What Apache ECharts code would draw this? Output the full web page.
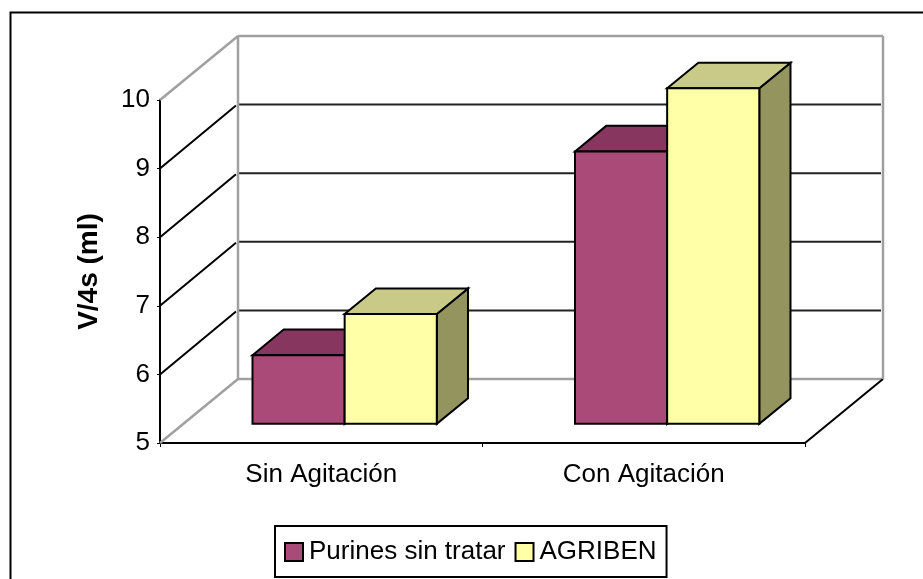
<!DOCTYPE html>
<html>
<head>
<meta charset="utf-8">
<style>
  html, body { margin: 0; padding: 0; background: #fff; }
  #chart { width: 923px; height: 579px; }
</style>
<script src="https://cdn.jsdelivr.net/npm/echarts@6/dist/echarts.min.js"></script>
</head>
<body>
<div id="chart"></div>
<script>
var categories = ['Sin Agitación', 'Con Agitación'];
var purines = [6.0, 8.97];
var agriben = [6.6, 9.89];
var yTicks = [5, 6, 7, 8, 9, 10];

var fontName = '"Liberation Sans", Arial, sans-serif';

// oblique offset of the back wall, Excel style 3D
var depthX = 78;
var depthY = -64;
var barInset = 0.3;   // bars sit 30% into the floor
var barDepth = 0.4;   // and take 40% of it

var myChart = echarts.init(document.getElementById('chart'));

function segment(x1, y1, x2, y2, color, width) {
  return {
    type: 'line',
    shape: { x1: x1, y1: y1, x2: x2, y2: y2 },
    style: { stroke: color, lineWidth: width || 2 }
  };
}

function renderWalls(params, api) {
  var rect = params.coordSys;
  var value = api.value(0);
  var y = api.coord([0, value])[1];
  var left = rect.x;
  var right = rect.x + rect.width;
  var backLeft = left + depthX;
  var backRight = right + depthX;
  var backY = y + depthY;
  var items = [];

  if (value === 5) {
    items.push(segment(left, y, backLeft, backY, '#a0a0a0', 2.5));
    items.push(segment(backLeft, backY, backRight, backY, '#a0a0a0', 2.5));
    items.push(segment(right, y, backRight, backY, '#000'));
  } else if (value === 10) {
    items.push(segment(left, y, backLeft, backY, '#a0a0a0', 2.5));
    items.push(segment(backLeft, backY, backRight, backY, '#a0a0a0', 2.5));
    items.push(segment(backLeft, backY, backLeft, backY + rect.height, '#a0a0a0', 2.5));
    items.push(segment(backRight, backY, backRight, backY + rect.height, '#a0a0a0', 2.5));
  } else {
    items.push(segment(left, y, backLeft - 2, backY + 1, '#000'));
    items.push(segment(backLeft + 1, backY, backRight - 2, backY, '#222'));
  }
  return { type: 'group', children: items };
}

function barRenderer(side, frontColor, topColor, sideColor) {
  return function (params, api) {
    var base = api.coord([api.value(0), 5]);
    var top = api.coord([api.value(0), api.value(1)]);
    var width = api.size([1, 0])[0] / 3.5;
    var x0 = base[0] + depthX * barInset + side * width;
    var x1 = x0 + width;
    var shift = depthY * barInset;
    var yBase = base[1] + shift;
    var yTop = top[1] + shift;
    var dx = depthX * barDepth;
    var dy = depthY * barDepth;

    function face(points, color) {
      return {
        type: 'polygon',
        shape: { points: points },
        style: { fill: color, stroke: '#000', lineWidth: 2, lineJoin: 'miter' }
      };
    }
    return {
      type: 'group',
      children: [
        face([[x1, yTop], [x1 + dx, yTop + dy], [x1 + dx, yBase + dy], [x1, yBase]], sideColor),
        face([[x0, yTop], [x0 + dx, yTop + dy], [x1 + dx, yTop + dy], [x1, yTop]], topColor),
        face([[x0, yTop], [x1, yTop], [x1, yBase], [x0, yBase]], frontColor)
      ]
    };
  };
}

function toPairs(values) {
  return values.map(function (v, i) { return [i, v]; });
}

var option = {
  animation: false,
  backgroundColor: '#fff',
  textStyle: { fontFamily: fontName, color: '#000' },
  graphic: [
    {
      type: 'rect',
      z: 0,
      shape: { x: 10.5, y: 12.5, width: 1000, height: 700 },
      style: { fill: 'none', stroke: '#000', lineWidth: 2 }
    }
  ],
  legend: {
    data: ['Purines sin tratar', 'AGRIBEN'],
    left: 275,
    top: 526,
    orient: 'horizontal',
    selectedMode: false,
    icon: 'rect',
    itemWidth: 18,
    itemHeight: 18,
    itemGap: 9,
    padding: [13, 10, 12, 9],
    borderColor: '#000',
    borderWidth: 2,
    textStyle: { fontFamily: fontName, fontSize: 26, color: '#000', padding: [0, 0, 4, 1] }
  },
  grid: { left: 160, top: 100, width: 645, height: 343 },
  xAxis: {
    type: 'category',
    data: categories,
    axisLine: { lineStyle: { color: '#000', width: 2 } },
    axisTick: { show: true, length: 4, lineStyle: { color: '#000', width: 1 } },
    axisLabel: { fontFamily: fontName, fontSize: 26, color: '#000', margin: 19 }
  },
  yAxis: {
    type: 'value',
    min: 5,
    max: 10,
    interval: 1,
    name: 'V/4s (ml)',
    nameLocation: 'middle',
    nameGap: 57,
    nameTextStyle: { fontFamily: fontName, fontSize: 28, fontWeight: 'bold', color: '#000' },
    axisLine: { show: true, lineStyle: { color: '#000', width: 2 } },
    axisTick: { show: true, length: 3, lineStyle: { color: '#000', width: 1 } },
    axisLabel: { fontFamily: fontName, fontSize: 26, color: '#000', margin: 10 },
    splitLine: { show: false }
  },
  series: [
    {
      name: 'walls',
      type: 'custom',
      silent: true,
      z: 1,
      data: yTicks.map(function (v) { return [v]; }),
      encode: { y: 0 },
      renderItem: renderWalls
    },
    {
      name: 'Purines sin tratar',
      type: 'custom',
      z: 3,
      itemStyle: { color: '#aa4a78', borderColor: '#000', borderWidth: 2 },
      data: toPairs(purines),
      encode: { x: 0, y: 1 },
      renderItem: barRenderer(-1, '#aa4a78', '#873660', '#873660')
    },
    {
      name: 'AGRIBEN',
      type: 'custom',
      z: 4,
      itemStyle: { color: '#ffffa8', borderColor: '#000', borderWidth: 2 },
      data: toPairs(agriben),
      encode: { x: 0, y: 1 },
      renderItem: barRenderer(0, '#ffffa8', '#caca88', '#94945f')
    }
  ]
};

myChart.setOption(option);
</script>
</body>
</html>
